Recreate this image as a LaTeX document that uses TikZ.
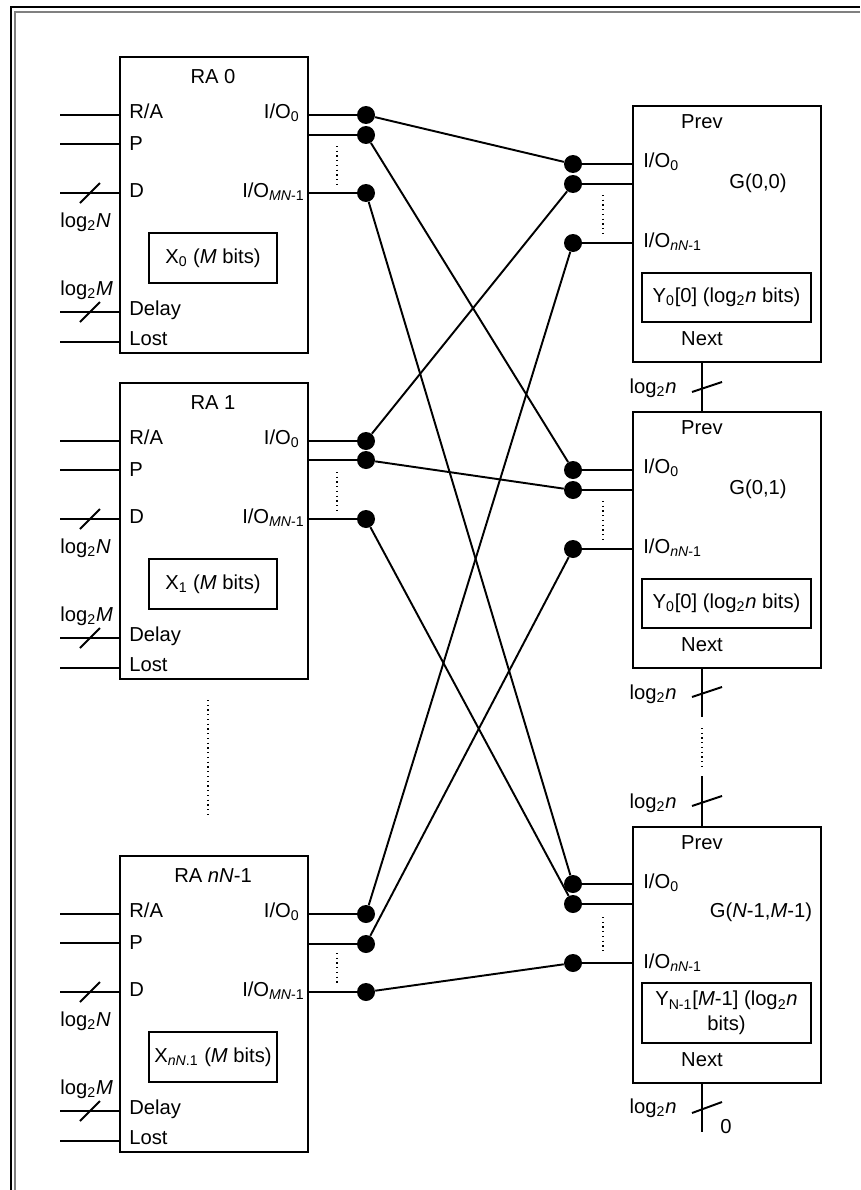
\documentclass[tikz,border=0pt]{standalone}
\usepackage{fontspec}
\setmainfont{Liberation Sans}
\usetikzlibrary{calc}

\tikzset{
    rabox/.style={draw, rectangle, line width=1.1pt, minimum width=3.76cm, minimum height=5.92cm, inner sep=0pt, anchor=north west},
    gbox/.style={draw, rectangle, line width=1.1pt, minimum width=3.76cm, minimum height=5.12cm, inner sep=0pt, anchor=north west},
    regbox/.style={draw, rectangle, line width=1.1pt, inner sep=0pt, align=center},
    iodot/.style={circle, fill, inner sep=0pt, minimum size=0.36cm},
    wire/.style={line width=1.1pt},
    dotline/.style={dotted, line width=0.7pt},
    lbl/.style={inner sep=0pt},
}

\begin{document}
\begin{tikzpicture}[x=0.02cm, y=-0.02cm, every node/.append style={font=\fontsize{11.5pt}{14pt}\selectfont}]
    \useasboundingbox (0,0) rectangle (860,1190);

    % Cadre
    \draw[line width=0.04cm] (11,1190) -- (11,7) -- (860,7);
    \draw[line width=0.04cm, gray] (15,1190) -- (15,12) -- (860,12);

    % Bloc RA 0
    \node[rabox] (ra0) at (119,56) {};
    \node[lbl, anchor=base] (ra0t) at (213,83) {RA 0};
    \node[lbl, anchor=base west] (ra0ra) at (129,118) {R/A};
    \node[lbl, anchor=base west] (ra0p) at (129,150) {P};
    \node[lbl, anchor=base west] (ra0d) at (129,197) {D};
    \node[lbl, anchor=base west] (ra0dl) at (129,315) {Delay};
    \node[lbl, anchor=base west] (ra0l) at (129,345) {Lost};
    \node[lbl, anchor=base east] (ra0io) at (300,118) {I/O\textsubscript{0}};
    \node[lbl, anchor=base east] (ra0iom) at (305,197) {I/O\textsubscript{\textit{MN}-1}};
    \node[regbox, minimum width=2.56cm, minimum height=1cm] (x0) at (213,258) {X\textsubscript{0} (\textit{M} bits)};
    \node[lbl, anchor=base west] (ra0n) at (60,227) {log\textsubscript{2}\textit{N}};
    \node[lbl, anchor=base west] (ra0m) at (60,295) {log\textsubscript{2}\textit{M}};
    \coordinate (ra0a) at (60,115);
    \coordinate (ra0b) at (60,144);
    \coordinate (ra0c) at (60,193);
    \coordinate (ra0e) at (60,312);
    \coordinate (ra0f) at (60,342);
    \draw[wire] (ra0a) -- (ra0a -| ra0.west);
    \draw[wire] (ra0b) -- (ra0b -| ra0.west);
    \draw[wire] (ra0c) -- (ra0c -| ra0.west);
    \draw[wire] (ra0e) -- (ra0e -| ra0.west);
    \draw[wire] (ra0f) -- (ra0f -| ra0.west);
    \draw[wire] (80,203) -- (100,183);
    \draw[wire] (80,322) -- (100,302);
    \node[iodot] (ra0o1) at (366,115) {};
    \node[iodot] (ra0o2) at (366,135) {};
    \node[iodot] (ra0o3) at (366,193) {};
    \draw[wire] (ra0o1) -- (ra0o1 -| ra0.east);
    \draw[wire] (ra0o2) -- (ra0o2 -| ra0.east);
    \draw[wire] (ra0o3) -- (ra0o3 -| ra0.east);
    \draw[dotline] (337,146) -- (337,185);

    % Bloc RA 1
    \node[rabox] (ra1) at (119,382) {};
    \node[lbl, anchor=base] (ra1t) at (213,409) {RA 1};
    \node[lbl, anchor=base west] (ra1ra) at (129,444) {R/A};
    \node[lbl, anchor=base west] (ra1p) at (129,476) {P};
    \node[lbl, anchor=base west] (ra1d) at (129,523) {D};
    \node[lbl, anchor=base west] (ra1dl) at (129,641) {Delay};
    \node[lbl, anchor=base west] (ra1l) at (129,671) {Lost};
    \node[lbl, anchor=base east] (ra1io) at (300,444) {I/O\textsubscript{0}};
    \node[lbl, anchor=base east] (ra1iom) at (305,523) {I/O\textsubscript{\textit{MN}-1}};
    \node[regbox, minimum width=2.56cm, minimum height=1cm] (x1) at (213,584) {X\textsubscript{1} (\textit{M} bits)};
    \node[lbl, anchor=base west] (ra1n) at (60,553) {log\textsubscript{2}\textit{N}};
    \node[lbl, anchor=base west] (ra1m) at (60,621) {log\textsubscript{2}\textit{M}};
    \coordinate (ra1a) at (60,441);
    \coordinate (ra1b) at (60,470);
    \coordinate (ra1c) at (60,519);
    \coordinate (ra1e) at (60,638);
    \coordinate (ra1f) at (60,668);
    \draw[wire] (ra1a) -- (ra1a -| ra1.west);
    \draw[wire] (ra1b) -- (ra1b -| ra1.west);
    \draw[wire] (ra1c) -- (ra1c -| ra1.west);
    \draw[wire] (ra1e) -- (ra1e -| ra1.west);
    \draw[wire] (ra1f) -- (ra1f -| ra1.west);
    \draw[wire] (80,529) -- (100,509);
    \draw[wire] (80,648) -- (100,628);
    \node[iodot] (ra1o1) at (366,441) {};
    \node[iodot] (ra1o2) at (366,460) {};
    \node[iodot] (ra1o3) at (366,519) {};
    \draw[wire] (ra1o1) -- (ra1o1 -| ra1.east);
    \draw[wire] (ra1o2) -- (ra1o2 -| ra1.east);
    \draw[wire] (ra1o3) -- (ra1o3 -| ra1.east);
    \draw[dotline] (337,472) -- (337,511);

    % entre RA 1 et RA nN-1
    \draw[dotline] (208,700) -- (208,816);

    % Bloc RA nN-1
    \node[rabox] (ra2) at (119,855) {};
    \node[lbl, anchor=base] (ra2t) at (213,882) {RA \textit{nN}-1};
    \node[lbl, anchor=base west] (ra2ra) at (129,917) {R/A};
    \node[lbl, anchor=base west] (ra2p) at (129,949) {P};
    \node[lbl, anchor=base west] (ra2d) at (129,996) {D};
    \node[lbl, anchor=base west] (ra2dl) at (129,1114) {Delay};
    \node[lbl, anchor=base west] (ra2l) at (129,1144) {Lost};
    \node[lbl, anchor=base east] (ra2io) at (300,917) {I/O\textsubscript{0}};
    \node[lbl, anchor=base east] (ra2iom) at (305,996) {I/O\textsubscript{\textit{MN}-1}};
    \node[regbox, minimum width=2.56cm, minimum height=1cm] (x2) at (213,1057) {X\textsubscript{\textit{nN}.1} (\textit{M} bits)};
    \node[lbl, anchor=base west] (ra2n) at (60,1026) {log\textsubscript{2}\textit{N}};
    \node[lbl, anchor=base west] (ra2m) at (60,1094) {log\textsubscript{2}\textit{M}};
    \coordinate (ra2a) at (60,914);
    \coordinate (ra2b) at (60,943);
    \coordinate (ra2c) at (60,992);
    \coordinate (ra2e) at (60,1111);
    \coordinate (ra2f) at (60,1141);
    \draw[wire] (ra2a) -- (ra2a -| ra2.west);
    \draw[wire] (ra2b) -- (ra2b -| ra2.west);
    \draw[wire] (ra2c) -- (ra2c -| ra2.west);
    \draw[wire] (ra2e) -- (ra2e -| ra2.west);
    \draw[wire] (ra2f) -- (ra2f -| ra2.west);
    \draw[wire] (80,1002) -- (100,982);
    \draw[wire] (80,1121) -- (100,1101);
    \node[iodot] (ra2o1) at (366,914) {};
    \node[iodot] (ra2o2) at (366,944) {};
    \node[iodot] (ra2o3) at (366,992) {};
    \draw[wire] (ra2o1) -- (ra2o1 -| ra2.east);
    \draw[wire] (ra2o2) -- (ra2o2 -| ra2.east);
    \draw[wire] (ra2o3) -- (ra2o3 -| ra2.east);
    \draw[dotline] (337,953) -- (337,984);

    % Bloc G(0,0)
    \node[gbox] (g0) at (632,105) {};
    \node[lbl, anchor=base] (g0prev) at (702,128) {Prev};
    \node[lbl, anchor=base west] (g0io) at (643,167) {I/O\textsubscript{0}};
    \node[lbl, anchor=base] (g0t) at (758,188) {G(0,0)};
    \node[lbl, anchor=base west] (g0ion) at (643,247) {I/O\textsubscript{\textit{nN}-1}};
    \node[regbox, minimum width=3.38cm, minimum height=0.98cm] (y0) at (726.5,297.5) {Y\textsubscript{0}[0] (log\textsubscript{2}\textit{n} bits)};
    \node[lbl, anchor=base] (g0next) at (702,345) {Next};
    \node[iodot] (g0i1) at (573,164) {};
    \node[iodot] (g0i2) at (573,184) {};
    \node[iodot] (g0i3) at (573,243) {};
    \draw[wire] (g0i1) -- (g0i1 -| g0.west);
    \draw[wire] (g0i2) -- (g0i2 -| g0.west);
    \draw[wire] (g0i3) -- (g0i3 -| g0.west);
    \draw[dotline] (603,195) -- (603,233);

    % Bloc G(0,1)
    \node[gbox] (g1) at (632,411) {};
    \node[lbl, anchor=base] (g1prev) at (702,434) {Prev};
    \node[lbl, anchor=base west] (g1io) at (643,473) {I/O\textsubscript{0}};
    \node[lbl, anchor=base] (g1t) at (758,494) {G(0,1)};
    \node[lbl, anchor=base west] (g1ion) at (643,553) {I/O\textsubscript{\textit{nN}-1}};
    \node[regbox, minimum width=3.38cm, minimum height=0.98cm] (y1) at (726.5,603.5) {Y\textsubscript{0}[0] (log\textsubscript{2}\textit{n} bits)};
    \node[lbl, anchor=base] (g1next) at (702,651) {Next};
    \node[iodot] (g1i1) at (573,470) {};
    \node[iodot] (g1i2) at (573,490) {};
    \node[iodot] (g1i3) at (573,549) {};
    \draw[wire] (g1i1) -- (g1i1 -| g1.west);
    \draw[wire] (g1i2) -- (g1i2 -| g1.west);
    \draw[wire] (g1i3) -- (g1i3 -| g1.west);
    \draw[dotline] (603,501) -- (603,539);

    % Bloc G(N-1,M-1)
    \node[gbox] (g2) at (632,826) {};
    \node[lbl, anchor=base] (g2prev) at (702,849) {Prev};
    \node[lbl, anchor=base west] (g2io) at (643,888) {I/O\textsubscript{0}};
    \node[lbl, anchor=base] (g2t) at (761,917) {G(\textit{N}-1,\textit{M}-1)};
    \node[lbl, anchor=base west] (g2ion) at (643,968) {I/O\textsubscript{\textit{nN}-1}};
    \node[regbox, minimum width=3.38cm, minimum height=1.2cm] (y2) at (726.5,1013) {Y\textsubscript{N-1}[\textit{M}-1] (log\textsubscript{2}\textit{n}\\bits)};
    \node[lbl, anchor=base] (g2next) at (702,1066) {Next};
    \node[iodot] (g2i1) at (573,884) {};
    \node[iodot] (g2i2) at (573,904) {};
    \node[iodot] (g2i3) at (573,963) {};
    \draw[wire] (g2i1) -- (g2i1 -| g2.west);
    \draw[wire] (g2i2) -- (g2i2 -| g2.west);
    \draw[wire] (g2i3) -- (g2i3 -| g2.west);
    \draw[dotline] (603,917) -- (603,954);

    % Chaine Prev / Next
    \draw[wire] ($(g0.south west)+(70,0)$) -- ($(g1.north west)+(70,0)$);
    \draw[wire] (692,392) -- (722,382);
    \node[lbl, anchor=base east] (n01) at (677,393) {log\textsubscript{2}\textit{n}};
    \coordinate (ch1) at (702,717);
    \draw[wire] ($(g1.south west)+(70,0)$) -- (ch1);
    \draw[wire] (692,697) -- (722,687);
    \node[lbl, anchor=base east] (n1) at (677,699) {log\textsubscript{2}\textit{n}};
    \draw[dotline] (702,728) -- (702,767);
    \coordinate (ch2) at (702,776);
    \draw[wire] (ch2) -- ($(g2.north west)+(70,0)$);
    \draw[wire] (692,806) -- (722,796);
    \node[lbl, anchor=base east] (n2) at (677,808) {log\textsubscript{2}\textit{n}};
    \coordinate (ch3) at (702,1132);
    \draw[wire] ($(g2.south west)+(70,0)$) -- (ch3);
    \draw[wire] (692,1113) -- (722,1102);
    \node[lbl, anchor=base east] (n3) at (677,1113) {log\textsubscript{2}\textit{n}};
    \node[lbl, anchor=base] (zero) at (726,1133) {0};

    % Liaisons RA -> G
    \draw[wire] (ra0o1) -- (g0i1);
    \draw[wire] (ra0o2) -- (g1i1);
    \draw[wire] (ra0o3) -- (g2i1);
    \draw[wire] (ra1o1) -- (g0i2);
    \draw[wire] (ra1o2) -- (g1i2);
    \draw[wire] (ra1o3) -- (g2i2);
    \draw[wire] (ra2o1) -- (g0i3);
    \draw[wire] (ra2o2) -- (g1i3);
    \draw[wire] (ra2o3) -- (g2i3);

\end{tikzpicture}
\end{document}
